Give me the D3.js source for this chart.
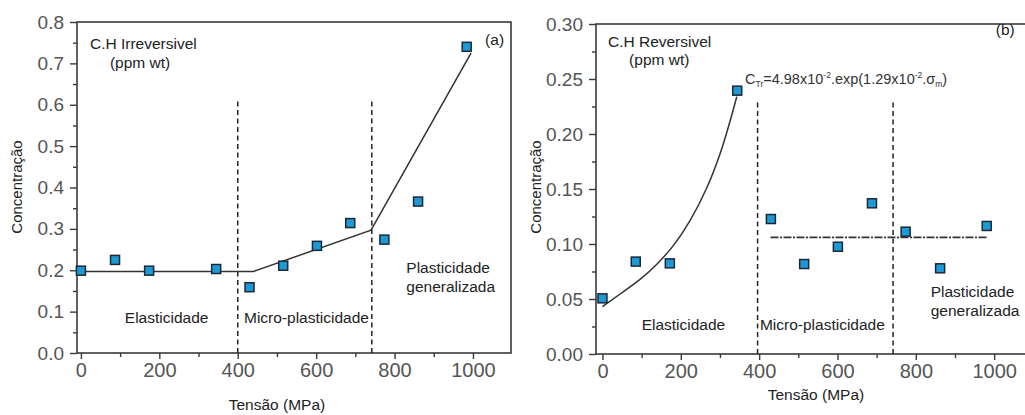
<!DOCTYPE html>
<html>
<head>
<meta charset="utf-8">
<script src="https://cdn.jsdelivr.net/npm/d3@7"></script>
<style>
  body { margin: 0; background: #fff; }
  svg { display: block; font-family: "Liberation Sans", Arial, sans-serif; }
</style>
</head>
<body>
<svg id="chart" width="1025" height="415"></svg>
<script>
// Data (a) irreversible
var stressA = [0, 87, 174, 345, 430, 516, 602, 687, 774, 860, 984];
var concA = [0.199, 0.225, 0.199, 0.203, 0.159, 0.211, 0.259, 0.314, 0.274, 0.366, 0.740];
var fitAx = [-8, 440, 740, 995];
var fitAy = [0.197, 0.197, 0.297, 0.725];
var limitsA = [400, 742];

// Data (b) reversible
var stressB = [0, 85, 172, 344, 430, 515, 601, 688, 774, 862, 981];
var concB = [0.0506, 0.084, 0.0824, 0.2394, 0.1227, 0.0818, 0.0975, 0.137, 0.1112, 0.0779, 0.1164];
var fitBx = [0, 53, 96, 138, 181, 223, 266, 308, 343];
var fitBy = [0.043, 0.0566, 0.0673, 0.0809, 0.0976, 0.120, 0.149, 0.188, 0.234];
var meanBx = [429, 981];
var meanBy = [0.106, 0.106];
var limitsB = [396, 742];

var xTicks = [0, 200, 400, 600, 800, 1000];
var xMinor = [100, 300, 500, 700, 900];
var yTicksA = [0, 0.1, 0.2, 0.3, 0.4, 0.5, 0.6, 0.7, 0.8];
var yTicksB = [0, 0.05, 0.10, 0.15, 0.20, 0.25, 0.30];

var svg = d3.select("#chart");

function drawPanel(p) {
    var x = d3.scaleLinear().domain(p.xDomain).range(p.xRange);
    var y = d3.scaleLinear().domain(p.yDomain).range(p.yRange);
    var g = svg.append("g");

    // frame
    g.append("rect")
        .attr("x", p.xRange[0]).attr("y", p.yRange[1])
        .attr("width", p.xRange[1] - p.xRange[0])
        .attr("height", p.yRange[0] - p.yRange[1])
        .attr("fill", "none").attr("stroke", "#3a3a3a").attr("stroke-width", 1.6);

    // minor ticks
    g.append("g").attr("transform", "translate(0," + p.yRange[0] + ")")
        .call(d3.axisBottom(x).tickValues(xMinor).tickSize(4).tickFormat(""))
        .call(a => a.select(".domain").remove());
    g.append("g").attr("transform", "translate(" + p.xRange[0] + ",0)")
        .call(d3.axisLeft(y).tickValues(p.yMinor).tickSize(4).tickFormat(""))
        .call(a => a.select(".domain").remove());

    // major ticks
    var xa = g.append("g").attr("transform", "translate(0," + p.yRange[0] + ")")
        .call(d3.axisBottom(x).tickValues(xTicks).tickSize(6).tickPadding(4).tickFormat(d3.format("d")));
    var ya = g.append("g").attr("transform", "translate(" + p.xRange[0] + ",0)")
        .call(d3.axisLeft(y).tickValues(p.yTicks).tickSize(7).tickPadding(6).tickFormat(d3.format(p.yFormat)));
    [xa, ya].forEach(a => a.select(".domain").remove());
    g.selectAll(".tick line").attr("stroke", "#3a3a3a").attr("stroke-width", 1.4);
    xa.selectAll("text").attr("font-size", 20).attr("fill", "#555").attr("font-family", "Liberation Sans, Arial");
    ya.selectAll("text").attr("font-size", 19).attr("fill", "#555").attr("font-family", "Liberation Sans, Arial");

    // region limits
    p.limits.forEach(function(v) {
        g.append("line")
            .attr("x1", x(v)).attr("x2", x(v))
            .attr("y1", y(0)).attr("y2", y(p.limitTop))
            .attr("stroke", "#222").attr("stroke-width", 1.5)
            .attr("stroke-dasharray", "5,3.5");
    });

    // axis labels
    g.append("text")
        .attr("transform", "translate(" + p.yLabelPos[0] + "," + p.yLabelPos[1] + ") rotate(-90)")
        .attr("text-anchor", "middle").attr("font-size", 15).attr("fill", "#222")
        .text("Concentração");
    g.append("text")
        .attr("x", p.xLabelPos[0]).attr("y", p.xLabelPos[1])
        .attr("text-anchor", "middle").attr("font-size", 15.5).attr("fill", "#222")
        .text("Tensão (MPa)");

    // annotations
    p.notes.forEach(function(n) {
        g.append("text")
            .attr("x", x(n[1])).attr("y", y(n[2]))
            .attr("font-size", n[3] || 15.5).attr("fill", "#222")
            .text(n[0]);
    });

    return { x: x, y: y, g: g };
}

function drawMarkers(panel, xs, ys) {
    panel.g.selectAll(".pt").data(xs).enter().append("rect")
        .attr("class", "pt")
        .attr("x", (d, i) => panel.x(d) - 4.5)
        .attr("y", (d, i) => panel.y(ys[i]) - 4.5)
        .attr("width", 9).attr("height", 9)
        .attr("fill", "#1d9ad6").attr("stroke", "#1b2838").attr("stroke-width", 1.5);
}

// Panel (a)
var pa = drawPanel({
    xDomain: [-10, 1097], xRange: [77, 511],
    yDomain: [0, 0.8], yRange: [353, 22],
    yTicks: yTicksA, yMinor: d3.range(0.05, 0.8, 0.1), yFormat: ".1f",
    limits: limitsA, limitTop: 0.608,
    yLabelPos: [22, 187], xLabelPos: [277, 410],
    notes: [
        ["C.H Irreversivel", 23, 0.734],
        ["(ppm wt)", 74, 0.69],
        ["(a)", 1031, 0.745],
        ["Elasticidade", 112, 0.0726],
        ["Micro-plasticidade", 416, 0.0726],
        ["Plasticidade", 830, 0.194],
        ["generalizada", 830, 0.148]
    ]
});
var fitA = d3.line().x((d, i) => pa.x(d)).y((d, i) => pa.y(fitAy[i]));
pa.g.append("path").attr("d", fitA(fitAx))
    .attr("fill", "none").attr("stroke", "#333").attr("stroke-width", 1.5);
drawMarkers(pa, stressA, concA);

// Panel (b)
var pb = drawPanel({
    xDomain: [-16.5, 1091.5], xRange: [596, 1030],
    yDomain: [0, 0.3], yRange: [354, 24],
    yTicks: yTicksB, yMinor: d3.range(0.025, 0.3, 0.05), yFormat: ".2f",
    limits: limitsB, limitTop: 0.231,
    yLabelPos: [541, 187], xLabelPos: [816, 400],
    notes: [
        ["C.H Reversivel", 14, 0.279],
        ["(ppm wt)", 68, 0.2627],
        ["(b)", 1004, 0.29],
        ["Elasticidade", 100, 0.0218],
        ["Micro-plasticidade", 402, 0.0218],
        ["Plasticidade", 838, 0.0518],
        ["generalizada", 838, 0.0345]
    ]
});
var fitB = d3.line().curve(d3.curveBasis).x((d, i) => pb.x(d)).y((d, i) => pb.y(fitBy[i]));
pb.g.append("path").attr("d", fitB(fitBx))
    .attr("fill", "none").attr("stroke", "#333").attr("stroke-width", 1.5);
var meanB = d3.line().x((d, i) => pb.x(d)).y((d, i) => pb.y(meanBy[i]));
pb.g.append("path").attr("d", meanB(meanBx))
    .attr("fill", "none").attr("stroke", "#333").attr("stroke-width", 1.6)
    .attr("stroke-dasharray", "8,1.5,2,1.5");
drawMarkers(pb, stressB, concB);

// fit equation
var eq = pb.g.append("text")
    .attr("x", pb.x(364)).attr("y", pb.y(0.2455))
    .attr("font-size", 14.5).attr("fill", "#333");
eq.append("tspan").text("C");
eq.append("tspan").attr("font-size", 8.5).attr("dy", 3).text("Tr");
eq.append("tspan").attr("dy", -3).text("=4.98x10");
eq.append("tspan").attr("font-size", 8.5).attr("dy", -6).text("-2");
eq.append("tspan").attr("dy", 6).text(".exp(1.29x10");
eq.append("tspan").attr("font-size", 8.5).attr("dy", -6).text("-2");
eq.append("tspan").attr("dy", 6).text(".σ");
eq.append("tspan").attr("font-size", 8.5).attr("dy", 3).text("m");
eq.append("tspan").attr("dy", -3).text(")");
</script>
</body>
</html>
